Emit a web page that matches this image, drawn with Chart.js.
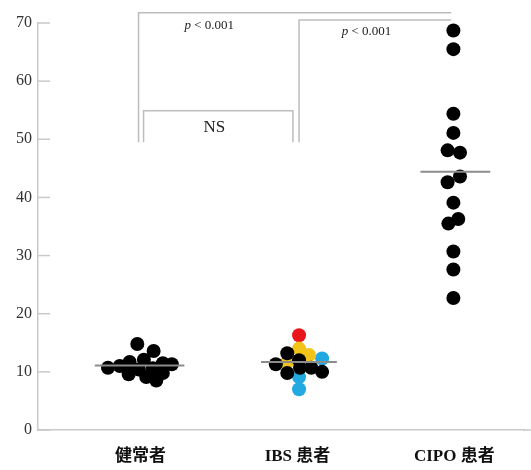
<!DOCTYPE html>
<html>
<head>
<meta charset="utf-8">
<script src="https://cdn.jsdelivr.net/npm/chart.js@4/dist/chart.umd.min.js"></script>
<style>
  html, body { margin: 0; padding: 0; background: #fff; }
  #chart { display: block; }
</style>
</head>
<body>
<canvas id="chart" width="531" height="470"></canvas>
<script>
// groups and y ticks
const categories = ['健常者', 'IBS 患者', 'CIPO 患者'];
const yTicks = [0, 10, 20, 30, 40, 50, 60, 70];

// healthy volunteers
const healthyValues = [14.8, 13.6, 10.7, 11.0, 11.7, 12.1, 11.5, 11.3, 9.6, 10.4, 10.6, 9.1, 9.8, 8.5];
const healthySpread = [-0.021, 0.083, -0.208, -0.133, -0.070, 0.021, 0.142, 0.199, -0.076, -0.011, 0.078, 0.036, 0.142, 0.100];

// IBS patients, split by dot colour
const ibsBlackValues = [13.2, 11.3, 12.0, 10.7, 10.7, 10.0, 9.8];
const ibsBlackSpread = [-0.065, -0.138, 0.010, 0.016, 0.088, 0.157, -0.065];
const ibsYellowValues = [14.0, 12.9, 11.5];
const ibsYellowSpread = [0.010, 0.073, -0.071];
const ibsBlueValues = [12.3, 9.1, 7.0];
const ibsBlueSpread = [0.157, 0.010, 0.010];
const ibsRedValues = [16.3];
const ibsRedSpread = [0.010];

// CIPO patients
const cipoValues = [68.7, 65.5, 54.4, 51.1, 48.1, 47.7, 43.6, 42.6, 39.1, 36.3, 35.5, 30.7, 27.6, 22.7];
const cipoSpread = [-0.006, -0.006, -0.006, -0.006, -0.043, 0.036, 0.036, -0.043, -0.006, 0.025, -0.038, -0.006, -0.006, -0.006];

// group centre lines
const centerValues = [11.1, 11.7, 44.4];

// significance labels
const compareLabels = ['p < 0.001', 'p < 0.001', 'NS'];

const serif = '"Liberation Serif", "Times New Roman", serif';
const axisGray = '#c9c9c9';

const toPoints = (values, spread, group) => values.map((v, i) => ({ x: group + spread[i], y: v }));

const centerLineSpan = [[0.708, 1.279], [1.768, 2.251], [2.784, 3.229]];
const centerLines = centerValues.map((v, i) => ({
    type: 'line',
    data: [{ x: centerLineSpan[i][0], y: v }, { x: centerLineSpan[i][1], y: v }],
    borderColor: '#8c8c8c',
    borderWidth: 2,
    pointRadius: 0,
    clip: false
}));

const dots = (values, spread, group, color) => ({
    type: 'scatter',
    data: toPoints(values, spread, group),
    backgroundColor: color,
    borderWidth: 0,
    pointRadius: 7,
    pointHoverRadius: 7,
    clip: false
});

// brackets and their labels, in data units
const brackets = [
    { x1: 0.987, x2: 2.98, top: 71.75, bottom: 49.5, left: true, right: false },
    { x1: 2.01, x2: 2.98, top: 70.5, bottom: 49.5, left: true, right: false },
    { x1: 1.019, x2: 1.971, top: 54.9, bottom: 49.5, left: true, right: true }
];
const labelSpots = [{ x: 1.438, y: 69.6 }, { x: 2.44, y: 68.6 }, { x: 1.47, y: 52.1 }];

const annotatePlugin = {
    id: 'annotate',
    afterDraw(chart) {
        const { ctx, chartArea, scales: { x, y } } = chart;
        ctx.save();
        // inward y ticks, and the x axis running on to the edge
        ctx.strokeStyle = axisGray;
        ctx.lineWidth = 1.5;
        yTicks.forEach(t => {
            const py = y.getPixelForValue(t);
            ctx.beginPath();
            ctx.moveTo(chartArea.left, py);
            ctx.lineTo(chartArea.left + 12, py);
            ctx.stroke();
        });
        const py0 = y.getPixelForValue(0);
        ctx.beginPath();
        ctx.moveTo(chartArea.right - 1, py0);
        ctx.lineTo(chart.width, py0);
        ctx.stroke();
        // brackets
        ctx.strokeStyle = '#bdbdbd';
        ctx.lineWidth = 1.5;
        brackets.forEach(b => {
            const x1 = x.getPixelForValue(b.x1), x2 = x.getPixelForValue(b.x2);
            const yt = y.getPixelForValue(b.top), yb = y.getPixelForValue(b.bottom);
            ctx.beginPath();
            if (b.left) { ctx.moveTo(x1, yb); ctx.lineTo(x1, yt); } else { ctx.moveTo(x1, yt); }
            ctx.lineTo(x2, yt);
            if (b.right) ctx.lineTo(x2, yb);
            ctx.stroke();
        });
        // labels
        ctx.fillStyle = '#222';
        ctx.textBaseline = 'middle';
        compareLabels.forEach((txt, i) => {
            const px = x.getPixelForValue(labelSpots[i].x);
            const py = y.getPixelForValue(labelSpots[i].y);
            if (txt.startsWith('p')) {
                const italic = 'italic 13px ' + serif;
                const plain = '13px ' + serif;
                ctx.font = italic;
                const w1 = ctx.measureText('p').width;
                ctx.font = plain;
                const rest = txt.slice(1);
                const w2 = ctx.measureText(rest).width;
                const start = px - (w1 + w2) / 2;
                ctx.textAlign = 'left';
                ctx.font = italic;
                ctx.fillText('p', start, py);
                ctx.font = plain;
                ctx.fillText(rest, start + w1, py);
            } else {
                ctx.font = '17px ' + serif;
                ctx.textAlign = 'center';
                ctx.fillText(txt, px, py);
            }
        });
        ctx.restore();
    }
};

new Chart(document.getElementById('chart'), {
    data: {
        datasets: [
            ...centerLines,
            dots(healthyValues, healthySpread, 1, '#000'),
            dots(ibsBlackValues, ibsBlackSpread, 2, '#000'),
            dots(ibsYellowValues, ibsYellowSpread, 2, '#f2c318'),
            dots(ibsBlueValues, ibsBlueSpread, 2, '#22a9e1'),
            dots(ibsRedValues, ibsRedSpread, 2, '#e8161b'),
            dots(cipoValues, cipoSpread, 3, '#000')
        ]
    },
    options: {
        responsive: false,
        animation: false,
        events: [],
        layout: { padding: { top: 23, right: 0, left: 0, bottom: 0 } },
        plugins: {
            legend: { display: false },
            tooltip: { enabled: false }
        },
        scales: {
            x: {
                type: 'linear',
                min: 0.346,
                max: 3.444,
                afterBuildTicks: (scale) => { scale.ticks = categories.map((c, i) => ({ value: i + 1 })); },
                afterFit: (scale) => { scale.height = 40; },
                ticks: {
                    callback: (v) => categories[v - 1],
                    autoSkip: false,
                    maxRotation: 0,
                    padding: 16,
                    color: '#111',
                    font: { family: '"Liberation Serif", "Noto Sans CJK JP", serif', size: 17, weight: 'bold' }
                },
                grid: { drawOnChartArea: false, drawTicks: false },
                border: { color: axisGray, width: 1.5 }
            },
            y: {
                min: 0,
                max: 70,
                afterBuildTicks: (scale) => { scale.ticks = yTicks.map(v => ({ value: v })); },
                afterFit: (scale) => { scale.width = 38; },
                ticks: {
                    padding: 6,
                    color: '#333',
                    font: { family: serif, size: 16 }
                },
                grid: { drawOnChartArea: false, drawTicks: false },
                border: { color: axisGray, width: 1.5 }
            }
        }
    },
    plugins: [annotatePlugin]
});
</script>
</body>
</html>
